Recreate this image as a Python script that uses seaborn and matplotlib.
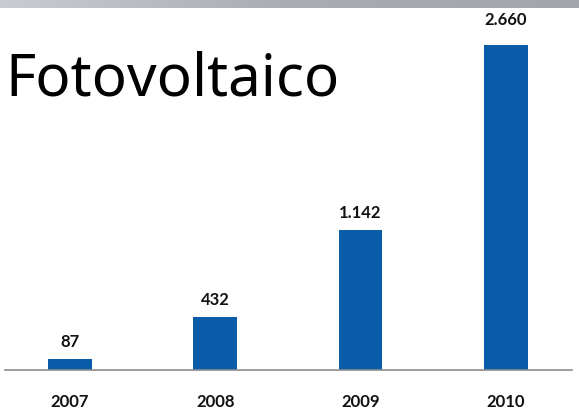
import numpy as np
import pandas as pd
import matplotlib
matplotlib.use("Agg")
import matplotlib.pyplot as plt
import seaborn as sns

# Installed photovoltaic capacity by year
years = ["2007", "2008", "2009", "2010"]
values = [87, 432, 1142, 2660]
value_labels = ["87", "432", "1.142", "2.660"]

sns.set_theme(style="white")
plt.rcParams["font.family"] = ["DejaVu Sans"]

df = pd.DataFrame({"year": years, "value": values})

W, H = 579, 411
fig = plt.figure(figsize=(W / 100, H / 100), dpi=100)
fig.patch.set_facecolor("white")

# Gray gradient band along the top edge
band = fig.add_axes([0, 1 - 8 / H, 1, 8 / H])
grad = np.linspace(0, 1, 256)[None, :]
band.imshow(grad, aspect="auto", cmap=matplotlib.colors.LinearSegmentedColormap.from_list(
    "band", ["#c9cdd2", "#a9adb1", "#a2a6aa"]), extent=[0, 1, 0, 1])
band.set_axis_off()

# Main bar axes
ax_left, ax_right = 5, 572
ax_bottom, ax_top = 370, 10
ax = fig.add_axes([ax_left / W, (H - ax_bottom) / H,
                   (ax_right - ax_left) / W, (ax_bottom - ax_top) / H])

sns.barplot(data=df, x="year", y="value", color="#0a5ca8", width=0.30,
            saturation=1, ax=ax, edgecolor="none")

px_per_unit = 325 / 2660
ymax = (ax_bottom - ax_top) / px_per_unit
ax.set_ylim(0, ymax)
ax.set_xlim(-0.447, 3.455)

label_gap_px = 9
label_h_px = 18
headroom_px = 10
for i, (v, lab) in enumerate(zip(values, value_labels)):
    kw = dict(ha="center", fontsize=12, fontweight="bold",
              family=["Lato", "DejaVu Sans"], color="#111111",
              textcoords="offset points")
    if v * px_per_unit + label_gap_px + label_h_px + headroom_px > ax_bottom - ax_top:
        # no room above the tallest bar: keep the label at the plot top
        ax.annotate(lab, (i, ymax), xytext=(0, -1.5), va="top", **kw)
    else:
        ax.annotate(lab, (i, v), xytext=(0, label_gap_px * 0.72),
                    va="bottom", **kw)

ax.set_xlabel("")
ax.set_ylabel("")
ax.set_yticks([])
for side in ["top", "right", "left"]:
    ax.spines[side].set_visible(False)
ax.spines["bottom"].set_color("#8c8c8c")
ax.spines["bottom"].set_linewidth(1.2)
ax.tick_params(axis="x", length=0, pad=17)
for t in ax.get_xticklabels():
    t.set_fontsize(12)
    t.set_fontweight("bold")
    t.set_family(["Lato", "DejaVu Sans"])
    t.set_color("#111111")
ax.patch.set_alpha(0)

# Slide title
fig.text(5 / W, 1 - 95 / H, "Fotovoltaico", fontsize=42, color="black",
         ha="left", va="baseline", family=["Noto Sans", "DejaVu Sans"])

fig.savefig("out.png", dpi=100)
